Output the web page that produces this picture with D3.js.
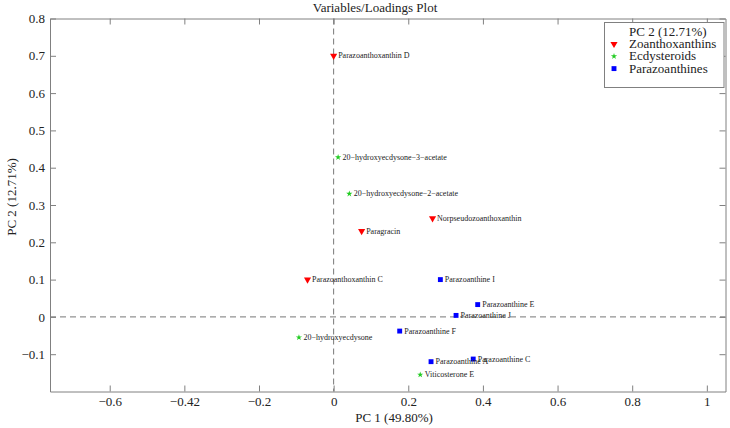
<!DOCTYPE html>
<html>
<head>
<meta charset="utf-8">
<script src="https://cdn.jsdelivr.net/npm/d3@7"></script>
<style>
  body { margin: 0; background: #fff; }
  svg { display: block; }
  svg text { font-family: "Liberation Serif", "Times New Roman", serif; }
</style>
</head>
<body>
<svg id="chart" width="730" height="428"></svg>
<script>
// ---- data ----
const groups = ["Zoanthoxanthins", "Ecdysteroids", "Parazoanthines"];
const groupColors = ["#ff0000", "#22cc22", "#0000ff"];

const names = [
  "Parazoanthoxanthin D", "20\u2212hydroxyecdysone\u22123\u2212acetate", "20\u2212hydroxyecdysone\u22122\u2212acetate",
  "Norpseudozoanthoxanthin", "Paragracin", "Parazoanthoxanthin C", "Parazoanthine I",
  "Parazoanthine E", "Parazoanthine J", "Parazoanthine F", "20\u2212hydroxyecdysone",
  "Parazoanthine C", "Parazoanthine A", "Viticosterone E"
];
const pc1 = [0.000, 0.012, 0.042, 0.265, 0.075, -0.070, 0.286, 0.386, 0.328, 0.177, -0.093, 0.374, 0.261, 0.232];
const pc2 = [0.700, 0.428, 0.330, 0.264, 0.230, 0.100, 0.100, 0.033, 0.004, -0.038, -0.055, -0.113, -0.120, -0.155];
const groupOf = [0, 1, 1, 0, 0, 0, 2, 2, 2, 2, 1, 2, 2, 1];

const xTickValues = [-0.6, -0.4, -0.2, 0, 0.2, 0.4, 0.6, 0.8, 1];
const xTickLabels = ["\u22120.6", "\u22120.42", "\u22120.2", "0", "0.2", "0.4", "0.6", "0.8", "1"];
const yTickValues = [-0.1, 0, 0.1, 0.2, 0.3, 0.4, 0.5, 0.6, 0.7, 0.8];
const yTickLabels = ["\u22120.1", "0", "0.1", "0.2", "0.3", "0.4", "0.5", "0.6", "0.7", "0.8"];

const titleText = "Variables/Loadings Plot";
const xLabel = "PC 1 (49.80%)";
const yLabel = "PC 2 (12.71%)";
const legendTitle = "PC 2 (12.71%)";

// ---- layout ----
const FONT = "Liberation Serif";
const svg = d3.select("#chart");
const L = 50, R = 725.5, T = 18.5, B = 391.5;
const axisColor = "#808080";
const textColor = "#222";

const x = d3.scaleLinear().domain([-0.76, 1.05]).range([L, R]);
const y = d3.scaleLinear().domain([-0.2, 0.8]).range([B, T]);

// zero dashed lines
svg.append("line").attr("x1", x(0)).attr("x2", x(0)).attr("y1", T).attr("y2", B)
  .attr("stroke", "#777").attr("stroke-dasharray", "6,4").attr("stroke-width", 1);
svg.append("line").attr("x1", L).attr("x2", R).attr("y1", y(0)).attr("y2", y(0))
  .attr("stroke", "#777").attr("stroke-dasharray", "6,4").attr("stroke-width", 1);

// axes
const tickLen = 6;
const fmtX = (d) => xTickLabels[xTickValues.indexOf(d)];
const fmtY = (d) => yTickLabels[yTickValues.indexOf(d)];

const gB = svg.append("g").attr("transform", `translate(0,${B})`)
  .call(d3.axisBottom(x).tickValues(xTickValues).tickFormat(fmtX).tickSizeInner(-tickLen).tickSizeOuter(0).tickPadding(5));
const gT = svg.append("g").attr("transform", `translate(0,${T})`)
  .call(d3.axisTop(x).tickValues(xTickValues).tickFormat("").tickSizeInner(-tickLen).tickSizeOuter(0));
const gL = svg.append("g").attr("transform", `translate(${L},0)`)
  .call(d3.axisLeft(y).tickValues(yTickValues).tickFormat(fmtY).tickSizeInner(-tickLen).tickSizeOuter(0).tickPadding(5));
const gR = svg.append("g").attr("transform", `translate(${R},0)`)
  .call(d3.axisRight(y).tickValues(yTickValues).tickFormat("").tickSizeInner(-tickLen).tickSizeOuter(0));

[gB, gT, gL, gR].forEach(g => {
  g.attr("font-family", FONT).attr("font-size", 13);
  g.select(".domain").attr("stroke", axisColor);
  g.selectAll(".tick line").attr("stroke", axisColor);
  g.selectAll(".tick text").attr("fill", textColor).attr("font-family", FONT).attr("font-size", 13);
});
gB.selectAll(".tick text").attr("dy", "0.71em");

// markers
const triSym = d3.symbol().type(d3.symbolTriangle).size(22);
const starSym = d3.symbol().type(d3.symbolStar).size(12);
const sqSym = d3.symbol().type(d3.symbolSquare).size(24);
function markerPath(gi) {
  if (gi === 0) return triSym();
  if (gi === 1) return starSym();
  return sqSym();
}
function markerTransform(gi, px, py) {
  if (gi === 0) return `translate(${px},${py}) rotate(180)`;
  return `translate(${px},${py})`;
}

const pts = svg.append("g");
names.forEach((n, i) => {
  const gi = groupOf[i];
  pts.append("path").attr("d", markerPath(gi))
    .attr("transform", markerTransform(gi, x(pc1[i]), y(pc2[i])))
    .attr("fill", groupColors[gi]);
  pts.append("text").attr("x", x(pc1[i]) + 4.5).attr("y", y(pc2[i]) + 2.5)
    .attr("font-family", FONT).attr("font-size", 8).attr("fill", textColor).text(n);
});

// title and axis labels
svg.append("text").attr("x", 375).attr("y", 12).attr("text-anchor", "middle")
  .attr("font-family", FONT).attr("font-size", 13).attr("fill", textColor).text(titleText);
svg.append("text").attr("x", 394).attr("y", 422).attr("text-anchor", "middle")
  .attr("font-family", FONT).attr("font-size", 13).attr("fill", textColor).text(xLabel);
svg.append("text").attr("transform", "translate(16,197) rotate(-90)").attr("text-anchor", "middle")
  .attr("font-family", FONT).attr("font-size", 13).attr("fill", textColor).text(yLabel);

// legend
const lg = svg.append("g");
lg.append("rect").attr("x", 604.5).attr("y", 22.5).attr("width", 119.5).attr("height", 65)
  .attr("fill", "#fff").attr("stroke", axisColor);
lg.append("text").attr("x", 629).attr("y", 35.5)
  .attr("font-family", FONT).attr("font-size", 13).attr("fill", textColor).text(legendTitle);
groups.forEach((gname, gi) => {
  const by = 48 + gi * 12.3;
  lg.append("path").attr("d", markerPath(gi))
    .attr("transform", markerTransform(gi, 614, by - 4))
    .attr("fill", groupColors[gi]);
  lg.append("text").attr("x", 629).attr("y", by)
    .attr("font-family", FONT).attr("font-size", 13).attr("fill", textColor).text(gname);
});
</script>
</body>
</html>
